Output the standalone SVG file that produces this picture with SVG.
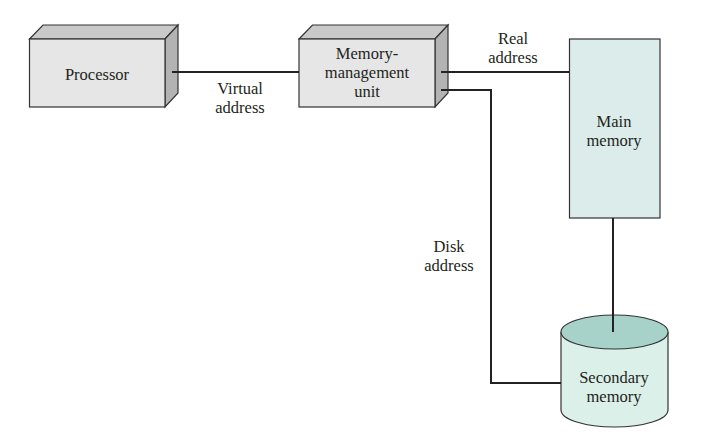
<svg xmlns="http://www.w3.org/2000/svg" width="724" height="434" viewBox="0 0 724 434">
<style>
.front{fill:#e6e6e6;stroke:#333;stroke-width:1.2}
.top{fill:#c9c9c9;stroke:#333;stroke-width:1.2}
.side{fill:#b3b3b3;stroke:#333;stroke-width:1.2}
.wire{fill:none;stroke:#222;stroke-width:2}
</style>
<rect width="724" height="434" fill="#fff"/>
<g id="processor">
<polygon class="top" points="29.5,39 43,25 178,25 165,39"/>
<polygon class="side" points="165,39 178,25 178,93 165,107"/>
<rect class="front" x="29.5" y="39" width="135.5" height="68"/>
<text x="97" y="80" font-family="Liberation Serif, serif" font-size="16.5" fill="#231f20" text-anchor="middle">Processor</text>
</g>
<g id="mmu">
<polygon class="top" points="299,39 312.5,25 448,25 435,39"/>
<polygon class="side" points="435,39 448,25 448,93 435,107"/>
<rect class="front" x="299" y="39" width="136" height="68"/>
<text x="367" y="59" font-family="Liberation Serif, serif" font-size="16.5" fill="#231f20" text-anchor="middle">Memory-</text>
<text x="367" y="78" font-family="Liberation Serif, serif" font-size="16.5" fill="#231f20" text-anchor="middle">management</text>
<text x="367" y="97" font-family="Liberation Serif, serif" font-size="16.5" fill="#231f20" text-anchor="middle">unit</text>
</g>
<g id="main-memory">
<rect x="569.5" y="39" width="90.5" height="179" fill="#dcecea" stroke="#333" stroke-width="1.2"/>
<text x="614" y="127" font-family="Liberation Serif, serif" font-size="16.5" fill="#231f20" text-anchor="middle">Main</text>
<text x="614" y="146" font-family="Liberation Serif, serif" font-size="16.5" fill="#231f20" text-anchor="middle">memory</text>
</g>
<g id="secondary-memory">
<path d="M561,332 L561,410 A53.5,17 0 0 0 668,410 L668,332" fill="#dcf0ea" stroke="#333" stroke-width="1.2"/>
<ellipse cx="614.5" cy="332" rx="53.5" ry="17" fill="#a7d2ca" stroke="#333" stroke-width="1.2"/>
<text x="614" y="383" font-family="Liberation Serif, serif" font-size="16.5" fill="#231f20" text-anchor="middle">Secondary</text>
<text x="614" y="402" font-family="Liberation Serif, serif" font-size="16.5" fill="#231f20" text-anchor="middle">memory</text>
</g>
<g id="connectors">
<line class="wire" x1="172" y1="72" x2="299" y2="72"/>
<line class="wire" x1="441" y1="72" x2="569.5" y2="72"/>
<polyline class="wire" points="441,90 491,90 491,383 561,383"/>
<line class="wire" x1="613" y1="218" x2="613" y2="332"/>
</g>
<g id="labels">
<text x="240" y="94" font-family="Liberation Serif, serif" font-size="16.5" fill="#231f20" text-anchor="middle">Virtual</text>
<text x="240" y="113" font-family="Liberation Serif, serif" font-size="16.5" fill="#231f20" text-anchor="middle">address</text>
<text x="513" y="44" font-family="Liberation Serif, serif" font-size="16.5" fill="#231f20" text-anchor="middle">Real</text>
<text x="513" y="63" font-family="Liberation Serif, serif" font-size="16.5" fill="#231f20" text-anchor="middle">address</text>
<text x="449" y="252" font-family="Liberation Serif, serif" font-size="16.5" fill="#231f20" text-anchor="middle">Disk</text>
<text x="449" y="271" font-family="Liberation Serif, serif" font-size="16.5" fill="#231f20" text-anchor="middle">address</text>
</g>
</svg>
